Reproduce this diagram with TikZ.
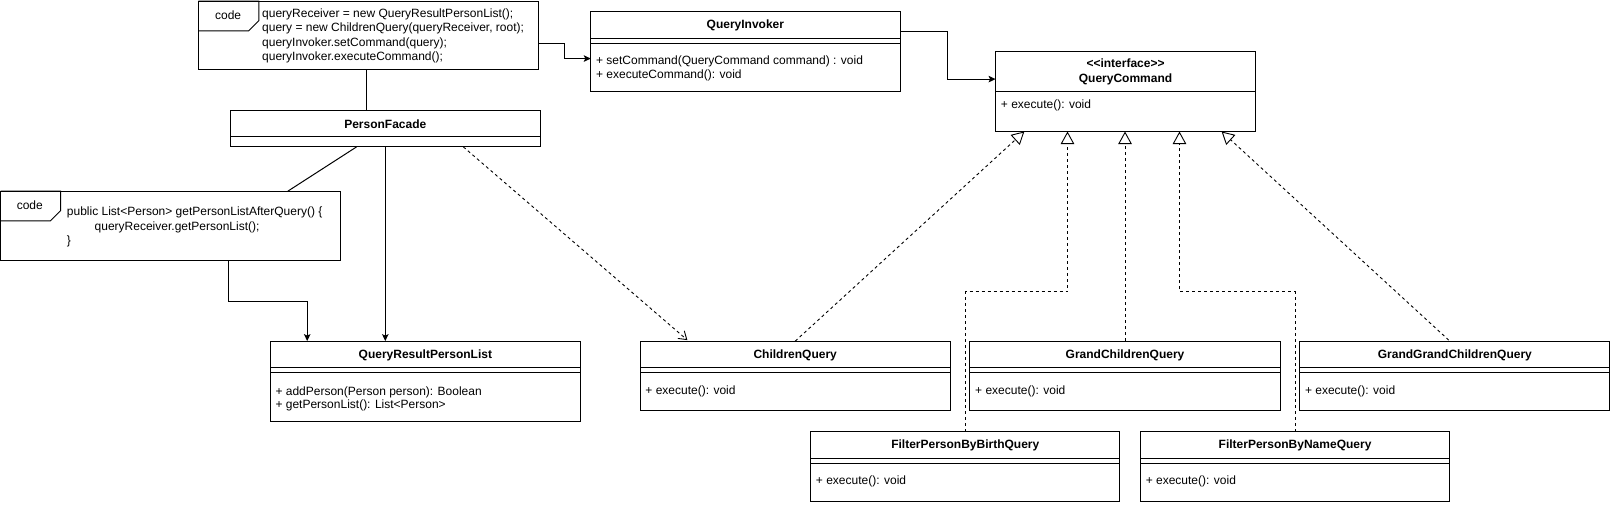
\documentclass[tikz,border=0pt]{standalone}
\usepackage{fontspec}
\setmainfont{Liberation Sans}
\usetikzlibrary{calc,arrows.meta}
\newcommand\fs{\fontsize{12}{14}\selectfont}
\newcommand\scf{1.0274}
\tikzset{
 box/.style={draw, line width=1pt, inner sep=0pt, outer sep=0pt, anchor=north west},
 ttl/.style={font=\fs\bfseries, inner sep=0pt, anchor=base},
 txt/.style={font=\fs, inner sep=0pt, anchor=base west},
 tabtxt/.style={font=\fs, inner sep=0pt},
 ln/.style={line width=1pt},
 arr/.style={line width=1pt, -{Stealth[length=7pt,width=6.5pt,inset=1.5pt]}},
 dep/.style={line width=0.9pt, dash pattern=on 3pt off 3pt, -{Straight Barb[length=7.5pt,width=10pt]}},
 real/.style={line width=0.9pt, dash pattern=on 3pt off 3pt, -{Triangle[open,length=12.5pt,width=13.5pt,fill=white]}},
}
\newcommand\umlclass[6]{%
 \node[box, minimum width=\scf*#4pt, minimum height=\scf*#5pt] (#1) at (#2,#3) {};
 \node[ttl] (#1-t) at ($(#1.north)+(0,17)$) {#6};
 \draw[ln] ($(#1.north west)+(0,26)$) -- ($(#1.north east)+(0,26)$);
 \draw[ln] ($(#1.north west)+(0,31)$) -- ($(#1.north east)+(0,31)$);
}
\newcommand\meth[4]{\node[txt] (#1) at ($(#2.north west)+(5,#3)$) {#4};}
\begin{document}
\begin{tikzpicture}[x=1.0274pt,y=-1.0274pt]
\useasboundingbox (0,0) rectangle (1568,491.5);

% code box 1
\node[box, minimum width=\scf*331pt, minimum height=\scf*67pt] (code1) at (193,1) {};
\draw[ln] (code1.north west) -- ++(59,0) -- ++(0,19) -- ++(-10,10) -- ++(-49,0);
\node[tabtxt] (code1-tab) at ($(code1.north west)+(29,14)$) {code};
\node[txt] (code1-l1) at ($(code1.north west)+(62,16)$) {queryReceiver = new QueryResultPersonList();};
\node[txt] (code1-l2) at ($(code1.north west)+(62,30)$) {query = new ChildrenQuery(queryReceiver, root);};
\node[txt] (code1-l3) at ($(code1.north west)+(62,44)$) {queryInvoker.setCommand(query);};
\node[txt] (code1-l4) at ($(code1.north west)+(62,58)$) {queryInvoker.executeCommand();};

% code box 2
\node[box, minimum width=\scf*330.5pt, minimum height=\scf*68pt] (code2) at (0.5,186) {};
\draw[ln] (code2.north west) -- ++(58.5,0) -- ++(0,19) -- ++(-10,10) -- ++(-48.5,0);
\node[tabtxt] (code2-tab) at ($(code2.north west)+(28.5,14)$) {code};
\node[txt] (code2-l1) at ($(code2.north west)+(64.5,24)$) {public List<Person> getPersonListAfterQuery() \{};
\node[txt] (code2-l2) at ($(code2.north west)+(91.5,38)$) {queryReceiver.getPersonList();};
\node[txt] (code2-l3) at ($(code2.north west)+(64.5,52)$) {\}};

% PersonFacade
\node[box, minimum width=\scf*302pt, minimum height=\scf*35pt] (PF) at (224,108) {};
\node[ttl] (PF-t) at ($(PF.north)+(0,17)$) {PersonFacade};
\draw[ln] ($(PF.north west)+(0,25)$) -- ($(PF.north east)+(0,25)$);

% QueryInvoker
\umlclass{QI}{575}{11}{301}{78}{QueryInvoker}
\meth{QI-m1}{QI}{52}{+ setCommand(QueryCommand command) : void}
\meth{QI-m2}{QI}{65}{+ executeCommand(): void}

% QueryCommand
\node[box, minimum width=\scf*253pt, minimum height=\scf*78pt] (QC) at (969,50) {};
\node[ttl] (QC-s) at ($(QC.north)+(0,16)$) {{<}{<}interface{>}{>}};
\node[ttl] (QC-t) at ($(QC.north)+(0,30)$) {QueryCommand};
\draw[ln] ($(QC.north west)+(0,39)$) -- ($(QC.north east)+(0,39)$);
\meth{QC-m1}{QC}{56}{+ execute(): void}

% QueryResultPersonList
\umlclass{QR}{263}{332}{302}{78}{QueryResultPersonList}
\meth{QR-m1}{QR}{53}{+ addPerson(Person person): Boolean}
\meth{QR-m2}{QR}{66}{+ getPersonList(): List<Person>}

% Queries
\umlclass{CQ}{623}{332}{302}{68}{ChildrenQuery}
\meth{CQ-m1}{CQ}{52}{+ execute(): void}
\umlclass{GCQ}{944}{332}{302}{68}{GrandChildrenQuery}
\meth{GCQ-m1}{GCQ}{52}{+ execute(): void}
\umlclass{GGCQ}{1265}{332}{302}{68}{GrandGrandChildrenQuery}
\meth{GGCQ-m1}{GGCQ}{52}{+ execute(): void}
\umlclass{FB}{789}{420}{301}{68}{FilterPersonByBirthQuery}
\meth{FB-m1}{FB}{52}{+ execute(): void}
\umlclass{FN}{1110}{420}{301}{68}{FilterPersonByNameQuery}
\meth{FN-m1}{FN}{52}{+ execute(): void}

% connectors
\draw[arr] ([shift={(0,7.5)}]code1.east) -- ++(25,0) |- ([shift={(0,7)}]QI.west);
\draw[arr] ([shift={(0,-19)}]QI.east) -- ++(46,0) |- ([shift={(0,-12)}]QC.west);
\draw[ln] ([shift={(-2,0)}]code1.south) -- ([shift={(-2,0)}]code1.south |- PF.north);
\draw[ln] ([shift={(-28,0)}]PF.south) -- ([shift={(114.5,0)}]code2.north);
\draw[arr] (PF.south) -- (PF.south |- QR.north);
\draw[arr] ([shift={(57,0)}]code2.south) -- ++(0,39) -| ([shift={(-115,0)}]QR.north);
\draw[dep] ([shift={(76,0)}]PF.south) -- ([shift={(-105,-1)}]CQ.north);

\draw[real] (CQ.north) -- ([shift={(-98.5,0)}]QC.south);
\draw[real] (FB.north) -- ++(0,-136) -| ([shift={(-56.5,0)}]QC.south);
\draw[real] (GCQ.north) -- (GCQ.north |- QC.south);
\draw[real] (FN.north) -- ++(0,-136) -| ([shift={(52.5,0)}]QC.south);
\draw[real] ([shift={(-6,-1)}]GGCQ.north) -- ([shift={(93.5,0)}]QC.south);
\end{tikzpicture}
\end{document}
